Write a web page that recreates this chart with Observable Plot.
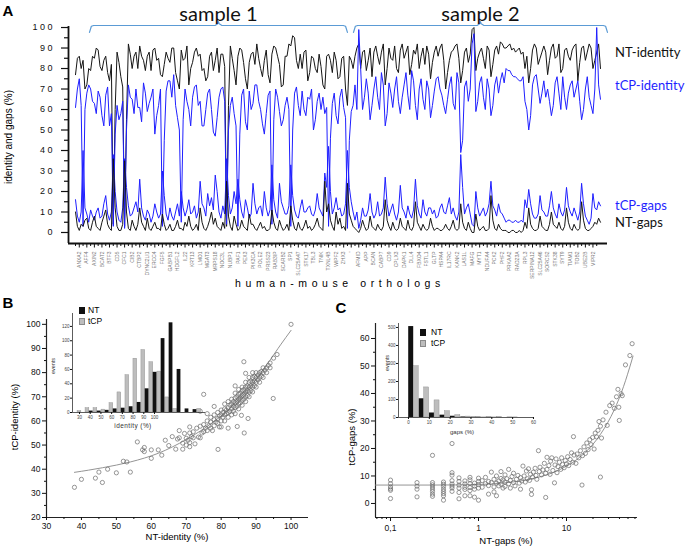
<!DOCTYPE html>
<html><head><meta charset="utf-8">
<script src="https://cdn.jsdelivr.net/npm/d3@7"></script>
<script src="https://cdn.jsdelivr.net/npm/@observablehq/plot@0.6"></script>
<style>
body{margin:0;background:#fff;}
#fig{position:relative;width:685px;height:547px;overflow:hidden;background:#fff;}
#fig svg{position:absolute;overflow:visible;}
</style></head><body><div id="fig"></div>
<script>
// ---------------- Panel A data ----------------
const genesSample1 = ["ANXA2","AFF4","AXIN2","BCAT2","BTF3","CD5","CFC1","CIB2","CTBP2","DYNC2LI1","ERCC4","FGF5","GABPB1","HDGFL2","IL22","KRT13","LMO1","MGAT3","MRPS18","NOC3L","NUBP1","PAF1","PEX3","PIK3CA","POLE2","PRSS23","RAB3IP","SCARB2","SP1","SLC25A47","STK17","TBL3","TNIK","TXNL4B","WIPF2","ZHX3"];
const genesSample2 = ["'","AFMID","APP","BCAN","CABP7","CD9","CPLX3","DAPK1","DLL4","FBXO4","FSTL1","GLTP","HSPA4","IL17RC","KANK2","LAS1L","MAFG","MYT1","NDUFA4","PCK2","PHF2","PRKAA2","RAD23A","RPL3","SERPINA12","SLC25A46","SORCS2","STK38","SYT9","TIAM1","TOB2","UBE2B","VIPR2"];
const ntIdentity = [
 77,85,86,80,84,70,72,80,79,86,85,90,89,81,79,84,86,78,74,82,
 4,60,88,83,76,71,3,55,92,87,80,86,88,80,91,86,84,79,86,88,
 79,89,90,84,85,77,76,82,88,85,83,90,90,78,74,70,89,84,85,91,
 72,80,83,88,90,86,87,79,80,74,76,86,88,79,84,90,78,87,87,81,
 3,62,91,85,79,72,86,90,89,83,75,70,83,87,88,82,92,85,80,76,
 84,89,77,73,87,91,90,86,82,71,72,86,86,92,91,96,95,84,80,87,
 80,88,89,74,78,86,85,80,78,87,81,72,70,86,87,84,78,88,84,75,
 76,85,86,70,62,86,84,80,
 86,90,92,80,88,89,79,84,90,76,88,91,86,82,88,92,72,80,90,85,
 84,91,80,78,89,92,85,88,91,77,82,89,87,92,80,86,90,82,91,87,
 75,83,88,91,86,90,92,84,70,78,84,88,89,91,92,85,73,79,88,90,
 83,87,99,100,79,85,88,90,85,80,91,89,76,82,89,91,87,93,92,90,
 90,91,92,89,90,88,89,90,87,88,80,86,73,80,89,92,90,82,85,88,
 91,88,77,84,90,92,85,86,92,78,80,89,90,86,84,89,91,92,74,83,
 90,91,84,88,92,90,80,84,88,92,80];
const tcpIdentity = [
 61,70,75,62,3,60,68,72,70,64,63,58,69,66,57,52,67,71,52,58,
 3,48,62,55,58,64,2,50,72,66,65,58,70,61,61,54,73,68,59,63,
 66,70,48,57,62,70,3,45,69,74,74,66,77,62,56,50,5,55,70,64,
 60,52,66,71,72,62,64,52,52,60,68,70,60,49,47,56,66,70,71,64,
 4,50,62,66,58,52,3,48,67,70,54,50,69,60,63,72,72,64,60,53,
 48,58,67,69,4,55,70,66,59,52,55,62,66,60,3,50,68,71,62,57,
 69,60,57,66,65,70,50,55,64,68,60,66,58,61,3,46,63,68,57,53,
 66,70,61,56,2,45,59,62,
 72,60,99,80,60,66,75,68,55,62,70,76,66,60,78,72,52,58,73,68,
 61,70,76,64,58,66,72,78,67,60,79,74,62,55,70,75,65,60,74,70,
 56,62,69,75,76,70,67,62,58,65,72,76,63,60,78,73,39,45,71,74,
 64,70,92,97,59,64,73,76,66,60,75,70,57,62,72,76,68,74,78,73,
 80,79,79,77,76,76,75,74,74,76,64,60,50,57,72,76,77,70,63,68,
 74,66,70,64,57,62,73,76,68,60,76,66,60,68,72,74,66,70,74,64,
 55,60,70,76,66,62,58,70,100,72,65];
const tcpGaps = [
 16,8,5,10,40,12,9,5,11,8,6,10,12,7,8,14,18,9,6,10,
 38,20,10,6,5,12,36,22,13,8,9,12,15,10,26,12,8,6,11,9,
 5,8,14,10,7,9,30,18,9,6,12,8,6,10,14,8,20,12,8,11,
 16,9,10,13,7,10,25,14,12,8,19,13,17,11,28,20,10,7,13,9,
 36,18,9,12,20,14,26,16,10,7,16,12,7,9,24,14,9,12,13,8,
 20,12,8,11,33,16,10,7,24,15,12,9,9,13,33,18,11,8,7,12,
 16,10,10,12,13,9,8,11,19,12,10,8,29,22,42,20,9,12,17,11,
 12,8,9,14,40,22,15,10,
 6,10,2,6,12,8,8,11,19,10,7,9,15,8,9,12,27,14,8,11,
 14,9,6,10,23,12,10,7,13,9,7,11,26,13,9,7,16,10,8,12,
 12,9,11,7,8,12,14,10,9,13,17,9,12,8,6,10,38,22,9,12,
 14,9,4,3,20,12,8,10,12,8,10,14,25,13,11,8,14,10,9,7,
 5,6,6,5,5,6,5,5,6,5,16,12,21,14,9,7,7,9,18,11,
 10,8,8,13,20,12,9,7,14,10,8,11,22,13,10,8,12,9,6,10,
 24,14,8,6,4,7,19,12,11,15,13];
const ntGaps = [
 10,3,1,4,3,6,7,2,1,5,8,3,2,1,5,8,11,4,2,1,
 36,12,3,1,1,4,35,10,2,1,6,3,1,4,12,5,3,1,7,2,
 1,3,5,2,2,1,9,4,1,2,4,1,1,3,6,2,2,1,5,3,
 8,3,1,2,4,1,12,5,2,1,3,6,10,4,7,3,2,1,5,2,
 25,8,3,1,8,4,1,2,6,3,2,1,9,4,4,2,1,3,5,2,
 3,1,1,2,11,5,2,1,6,3,1,2,4,1,13,6,2,1,5,2,
 1,3,6,2,3,1,2,4,7,3,2,1,25,10,14,6,3,1,10,4,
 7,2,3,1,24,9,6,3,
 2,1,0,2,6,3,1,2,8,3,2,1,4,2,1,3,16,6,3,1,
 5,2,1,2,7,3,2,1,6,2,1,3,15,5,3,1,4,2,1,2,
 7,3,1,2,2,1,1,2,4,2,1,3,6,2,1,2,14,5,2,1,
 5,2,0,0,9,3,1,2,3,1,1,2,18,6,2,1,4,2,1,1,
 1,0,0,1,1,0,0,1,0,1,5,2,12,4,2,1,1,2,8,3,
 2,1,1,4,10,4,3,2,5,2,1,3,12,5,2,1,4,2,1,2,
 15,6,2,1,1,2,3,5,4,7,5];
const samples = [{name:"sample 1", from:7.4, to:144.0}, {name:"sample 2", from:147.2, to:281.7}];
const seriesLabels = [{name:"NT-identity", color:"#111"}, {name:"tCP-identity", color:"#1f1fff"}, {name:"tCP-gaps", color:"#1f1fff"}, {name:"NT-gaps", color:"#111"}];

// ---------------- Panel B data ----------------
const pointsB = [[38,32.5],[40,35.8],[44,36.3],[45,38.8],[46,34.5],[47.5,40],[50,38.5],[52,43.3],[53,43],[54,38.8],[56,51.3],[57.5,48],[58,47.3],[58,49],[60,48],[60,44.5],[62,48],[63,45.8],[64,52],[65,49.8],[66,53.5],[67,48.3],[67.5,52.5],[68,56],[68,53],[69,50.8],[69,48.3],[69.5,54.8],[70,50],[70,52.8],[70.5,52],[71,49.3],[71,51],[71,55],[71,57.5],[71.5,53.5],[72,53],[72,55.5],[72.5,50.5],[73,57],[73.5,53.3],[74,53],[74,57.8],[74.5,55],[75,55.5],[75,58.5],[75.5,57],[76,56],[76,60],[76.5,58],[77,57],[77,59.5],[77,61.5],[77.5,56],[78,58],[78,60.5],[78,62.5],[78.5,59.5],[79,59],[79,61],[79,63.5],[79.5,57.5],[79.5,62],[80,60],[80,62.5],[80,64.5],[80.5,61.5],[80.5,63.5],[81,60],[81,62.5],[81,65],[81,67],[81.5,63],[81.5,64.5],[82,61.5],[82,63.5],[82,65.5],[82,68],[82.5,64],[82.5,66.5],[83,62.5],[83,65],[83,67],[83,69],[83.5,64],[83.5,66],[83.5,68],[84,63],[84,65.5],[84,67.5],[84,69.5],[84,71.5],[84.5,66],[84.5,68],[84.5,70],[85,65],[85,67],[85,69],[85,71],[85,73],[85.5,67.5],[85.5,69.5],[85.5,71.5],[86,66.5],[86,68.5],[86,70.5],[86,72.5],[86,74],[86.5,69],[86.5,71],[86.5,73],[87,68],[87,70],[87,72],[87,74],[87,76],[87.5,70.5],[87.5,72.5],[87.5,74.5],[88,70],[88,72],[88,74],[88,76],[88,78],[88.5,72.5],[88.5,74.5],[88.5,76.5],[89,72],[89,74],[89,76],[89,78],[89,80],[89.5,74.5],[89.5,76.5],[89.5,78.5],[90,74],[90,76],[90,78],[90,80],[90.5,77],[90.5,79],[91,76],[91,78],[91,80],[91.5,78.5],[91.5,80.5],[92,78],[92,80],[92,82],[92.5,81],[93,80],[93,82],[93.5,83],[94,82],[94,84],[95,86],[96,87.5],[100,100],[86.5,84.5],[87,79.7],[75,71],[84,74.5],[87.7,61],[84.6,57.7],[79.1,48.2],[86.6,55],[94.9,69.3],[85.8,62.3],[82,57],[80,57.5],[76,63],[74,64],[78,66]];
const fitB = [[38,38.7],[42,39.6],[46,40.6],[50,41.7],[54,43],[58,44.6],[62,46.6],[66,49.2],[70,52.3],[74,55.8],[78,59.8],[82,64.6],[86,70.4],[90,77.2],[94,85.2],[97,91.5],[100,97.5]];
const identityBinEdge = [25,30,35,40,45,50,55,60,65,70,75,80,85,90,95,100];
const identityTcpEvents = [2,6,6,4,13,28,52,75,87,70,57,21,5,0,0,5];
const identityNtEvents  = [0,2,2,3,5,6,8,14,33,56,103,125,60,5,4,0];
const identityTickLabels = [30,40,50,60,70,80,90,100];

// ---------------- Panel C data ----------------
const pointsC = [[0.1,8.5],[0.1,7.2],[0.1,6.0],[0.1,5.3],[0.1,4.8],[0.1,1.8],[0.2,7.6],[0.2,6.3],[0.2,5.2],[0.2,2.4],[0.3,17.5],[0.3,7.6],[0.3,6.8],[0.3,6.0],[0.3,5.2],[0.3,4.4],[0.3,3.4],[0.3,2.6],[0.4,7.8],[0.4,7.0],[0.4,6.2],[0.4,5.2],[0.4,4.4],[0.4,3.6],[0.4,2.8],[0.4,1.2],[0.5,21.8],[0.5,11.2],[0.5,10.3],[0.5,8.3],[0.5,7.1],[0.5,6.3],[0.5,5.6],[0.5,4.4],[0.6,9.3],[0.6,8.0],[0.6,6.7],[0.6,5.6],[0.6,4.0],[0.6,1.7],[0.7,8.2],[0.7,7.1],[0.7,5.9],[0.7,5.1],[0.7,2.8],[0.8,9.5],[0.8,8.6],[0.8,7.2],[0.8,5.8],[0.8,4.7],[0.8,2.8],[0.9,7.4],[0.9,6.3],[0.9,5.2],[0.9,2.3],[1.0,9.2],[1.0,8.0],[1.0,6.9],[1.0,5.6],[1.0,1.2],
[1.1,8.3],[1.1,5.9],[1.2,7.2],[1.2,9.5],[1.3,3.4],[1.3,6.5],[1.3,8.0],[1.4,7.6],[1.4,11.4],[1.5,6.0],[1.5,8.8],[1.5,4.2],[1.6,7.4],[1.6,10.0],[1.6,2.8],[1.7,8.2],[1.7,6.4],[1.8,9.1],[1.8,7.0],[1.8,11.6],[1.9,5.6],[1.9,8.6],[2.0,7.8],[2.0,10.4],[2.0,6.2],[2.1,9.0],[2.2,7.2],[2.2,12.4],[2.3,8.4],[2.3,5.6],[2.4,9.8],[2.5,7.6],[2.5,11.0],[2.6,6.4],[2.7,8.8],[2.8,10.2],[2.9,7.4],[3.0,9.4],[3.0,5.2],[3.1,8.2],[3.2,13.6],[3.3,10.0],[3.4,7.8],[3.5,11.8],[3.6,9.0],[3.7,12.6],[3.8,8.4],[3.9,10.6],[4.0,3.3],[4.0,5.0],[4.1,9.6],[4.2,11.4],[4.4,12.8],[4.5,10.2],[4.6,8.8],[4.8,19.2],[4.9,11.6],[5.0,13.2],[5.2,10.4],[5.4,12.2],[5.6,14.6],[5.8,2.2],[5.8,11.0],[6.0,16.8],[6.0,12.4],[6.3,13.8],[6.5,10.6],[6.6,15.4],[6.8,16.6],[7.0,12.0],[7.3,7.5],[7.4,14.0],[7.6,16.2],[7.8,11.2],[8.0,13.4],[8.3,15.0],[8.6,12.4],[8.8,16.6],[9.0,14.2],[9.4,13.0],[9.7,15.6],[10.0,14.4],[10.3,17.0],[10.6,13.8],[11.0,16.0],[11.4,18.4],[11.8,15.0],[12.0,24.3],[12.2,17.6],[12.8,14.6],[13.2,18.0],[13.8,16.6],[14.4,19.2],[15.0,6.7],[15.2,17.4],[15.8,20.6],[16.4,18.2],[17.0,22.0],[17.6,19.6],[18.4,23.2],[19.0,21.4],[19.8,24.0],[20.6,19.8],[21.2,25.6],[22.0,24.2],[22.8,26.6],[23.4,29.8],[24.3,9.6],[24.3,28.1],[25.0,23.8],[26.0,30.4],[28.1,33.2],[29.0,28.4],[31.0,35.6],[33.0,36.5],[35.0,34.6],[37.0,38.8],[38.4,41.5],[39.3,35.0],[39.8,30.2],[41.7,39.9],[43.0,39.2],[46.8,50.4],[52.5,53.8],[55.7,58.1]];
const fitC = [[0.0675,6.7],[0.3,6.7],[1,6.9],[2,7.5],[3,8.2],[5,9.7],[7,11.2],[10,13.6],[14,16.7],[18,19.9],[22,23.2],[27,27.4],[32,31.6],[37,35.9],[42,40.3],[47,44.8],[52,49.3],[57,53.6]];
const gapsBinEdge = [0,5,10,15,20,25,30,35,40,45,50,55];
const gapsNtEvents  = [505,104,25,13,7,3,2,1,1,0,1,0];
const gapsTcpEvents = [285,167,95,35,13,5,4,3,2,1,0,0];
const gapsTickLabels = [0,10,20,30,40,50,60];

// ---------------- helpers ----------------
const fig = document.getElementById("fig");
const SANS = '"Liberation Sans", Arial, sans-serif';
function put(svg, left, top){ svg.style.left = left + "px"; svg.style.top = top + "px"; fig.appendChild(svg); }
function label(text, x, y, o = {}) {
  const d = document.createElement("div");
  d.textContent = text;
  const anchor = o.anchor || "middle";
  const tx = anchor === "start" ? "0" : anchor === "end" ? "-100%" : "-50%";
  Object.assign(d.style, {position:"absolute", left:x+"px", top:y+"px", whiteSpace:"nowrap",
    fontSize:(o.size||10)+"px", fontFamily:o.family||SANS, color:o.color||"#000",
    fontWeight:o.weight||"normal", letterSpacing:o.spacing||"normal", lineHeight:"1.15",
    transform:`translate(${tx},-50%)` + (o.rotate ? ` rotate(${o.rotate}deg)` : "")});
  fig.appendChild(d);
}
function swatch(x, y, w, h, fill, stroke) {
  const d = document.createElement("div");
  Object.assign(d.style, {position:"absolute", left:x+"px", top:y+"px", width:w+"px", height:h+"px", background:fill, boxSizing:"border-box", border: stroke ? `0.5px solid ${stroke}` : "none"});
  fig.appendChild(d);
}
const spaced = d => String(d).split("").join(" ");
const baseStyle = {fontFamily: SANS, background: "transparent", color: "#111", overflow: "visible"};

// ---------------- Panel A ----------------
const rowsA = ntIdentity.map((v, i) => ({i, ntId: v, tcpId: tcpIdentity[i], tcpGap: tcpGaps[i], ntGap: ntGaps[i]}));
const geneLabels = genesSample1.concat(genesSample2);
const labelIdx = geneLabels.map((_, k) => 4 * k + 2);
const minorIdx = geneLabels.map((_, k) => 4 * k).concat([4 * geneLabels.length]);
const xA = [-3.71, 281.71], yA = [-5.37, 100.5];
const bracketPts = samples.flatMap(s => {
  const m = (s.from + s.to) / 2;
  return [[s.from,97.6],[s.from+1,100.6],[s.from+2.2,101],[m-1.8,101],[m-0.4,101.8],[m,102.9],[m+0.4,101.8],[m+1.8,101],[s.to-2.2,101],[s.to-1,100.6],[s.to,97.6]].map(p => ({name: s.name, x: p[0], y: p[1]}));
});
const plotA = Plot.plot({
  width: 685, height: 290, marginLeft: 68, marginRight: 78, marginTop: 26, marginBottom: 47,
  x: {domain: xA}, y: {domain: yA},
  style: {...baseStyle, fontSize: "9px"},
  marks: [
    Plot.line(rowsA, {x: "i", y: "ntId", stroke: "#151515", strokeWidth: 1}),
    Plot.line(rowsA, {x: "i", y: "tcpId", stroke: "#1f1fff", strokeWidth: 1}),
    Plot.line(rowsA, {x: "i", y: "tcpGap", stroke: "#1f1fff", strokeWidth: 1}),
    Plot.line(rowsA, {x: "i", y: "ntGap", stroke: "#151515", strokeWidth: 1}),
    Plot.line(bracketPts, {x: "x", y: "y", z: "name", stroke: "#5b9bd5", strokeWidth: 1.2, curve: "linear"}),
    Plot.text(samples, {x: d => (d.from + d.to) / 2, y: () => 106.4, text: "name", fontFamily: "Lato, 'Open Sans', sans-serif", fontSize: 20, fill: "#111"}),
    Plot.ruleX([xA[0]], {stroke: "#111", strokeWidth: 1.8}),
    Plot.ruleY([yA[0]], {stroke: "#111", strokeWidth: 1.8}),
    Plot.axisY({ticks: d3.range(0, 101, 10), tickSize: 7, tickPadding: 9, tickFormat: spaced, label: null, fontSize: 9, strokeWidth: 1.2}),
    Plot.axisY({ticks: d3.range(5, 100, 10), tickSize: 4, tickFormat: () => "", label: null, strokeWidth: 1.2}),
    Plot.axisX({ticks: minorIdx, tickSize: 3, tickFormat: () => "", label: null, strokeWidth: 1}),
    Plot.axisX({ticks: labelIdx, tickSize: 4.5, tickPadding: 3.5, tickRotate: -90, tickFormat: i => geneLabels[(i - 2) / 4], fontSize: 5, fill: "#777", label: null, strokeWidth: 1})
  ]
});
put(plotA, 0, 0);
label("A", 8, 11, {size: 15, weight: "bold"});
label("identity and gaps (%)", 9, 137, {size: 10, rotate: -90});
label("human-mouse orthologs", 340, 283, {size: 10.5, spacing: "4.6px"});
const legendY = [52, 85, 205, 222];
seriesLabels.forEach((s, k) => label(s.name, 615, legendY[k], {anchor: "start", size: 13, family: "Lato, 'Open Sans', sans-serif", color: s.color}));

// ---------------- Panel B ----------------
const plotB = Plot.plot({
  width: 330, height: 257, marginLeft: 46, marginRight: 22, marginTop: 29, marginBottom: 30,
  x: {domain: [30, 105]}, y: {domain: [20, 102]},
  style: {...baseStyle, fontSize: "8.5px"},
  marks: [
    Plot.ruleX([30], {stroke: "#222", strokeWidth: 1.2}),
    Plot.ruleY([20], {stroke: "#222", strokeWidth: 1.2}),
    Plot.axisX({ticks: d3.range(30, 101, 10), tickSize: 3, tickPadding: 2, label: null}),
    Plot.axisX({ticks: d3.range(35, 100, 10), tickSize: 2, tickFormat: () => "", label: null}),
    Plot.axisY({ticks: d3.range(20, 101, 10), tickSize: 4, tickPadding: 2, label: null}),
    Plot.axisY({ticks: d3.range(25, 100, 10), tickSize: 2, tickFormat: () => "", label: null}),
    Plot.line(fitB, {x: d => d[0], y: d => d[1], stroke: "#888", strokeWidth: 0.9, curve: "natural"}),
    Plot.dot(pointsB, {x: d => d[0], y: d => d[1], r: 2.1, stroke: "#6a6a6a", strokeWidth: 0.7, fill: "none"})
  ]
});
put(plotB, 0, 290);
label("B", 8, 303, {size: 15, weight: "bold"});
label("NT-identity (%)", 177, 537, {size: 9.5});
label("tCP-identity (%)", 15, 417, {size: 9.5, rotate: -90});

// inset B histogram (drawn in the figure's compressed identity-axis units)
const histB = identityBinEdge.map((e, k) => ({s: 28 + (e - 25) * 1.49, tcp: identityTcpEvents[k], nt: identityNtEvents[k]}));
const halfB = 3.725;
const insetB = Plot.plot({
  width: 175, height: 135, marginLeft: 32, marginRight: 10, marginTop: 13, marginBottom: 23,
  x: {domain: [23.47, 147.6]}, y: {domain: [0, 138]},
  style: {...baseStyle, fontSize: "4.5px"},
  marks: [
    Plot.rect(histB, {x1: d => d.s + 0.2, x2: d => d.s + halfB, y1: () => 0, y2: "tcp", fill: "#bdbdbd", stroke: "#8a8a8a", strokeWidth: 0.4}),
    Plot.rect(histB, {x1: d => d.s + halfB, x2: d => d.s + 2 * halfB - 0.2, y1: () => 0, y2: "nt", fill: "#111"}),
    Plot.ruleX([23.47], {stroke: "#333", strokeWidth: 0.8}),
    Plot.ruleY([0], {stroke: "#333", strokeWidth: 0.8}),
    Plot.axisY({ticks: d3.range(0, 121, 20), tickSize: 2, tickPadding: 1, label: null, fontSize: 4.5, fill: "#444"}),
    Plot.axisX({ticks: identityTickLabels, tickSize: 2, tickPadding: 1, label: null, fontSize: 4.5, fill: "#444"})
  ]
});
put(insetB, 40, 300);
label("events", 53, 366, {size: 5.5, rotate: -90, color: "#333"});
label("identity (%)", 133, 426, {size: 6.5, color: "#333", spacing: "0.4px"});
swatch(79, 307, 6, 7, "#111");
label("NT", 88, 311, {anchor: "start", size: 8.5});
swatch(79, 318, 6, 7, "#bdbdbd", "#8a8a8a");
label("tCP", 88, 321.5, {anchor: "start", size: 8.5});

// ---------------- Panel C ----------------
const minorLog = [0.07,0.08,0.09,0.2,0.3,0.4,0.5,0.6,0.7,0.8,0.9,2,3,4,5,6,7,8,9,20,30,40,50,60];
const plotC = Plot.plot({
  width: 355, height: 257, marginLeft: 45, marginRight: 48, marginTop: 33, marginBottom: 30,
  x: {type: "log", domain: [0.0675, 64.1]}, y: {domain: [-5.1, 65.45]},
  style: {...baseStyle, fontSize: "8.5px"},
  marks: [
    Plot.ruleX([0.0675], {stroke: "#222", strokeWidth: 1.2}),
    Plot.ruleY([-5.1], {stroke: "#222", strokeWidth: 1.2}),
    Plot.axisX({ticks: [0.1, 1, 10], tickSize: 4, tickPadding: 3, tickFormat: d => String(d).replace(".", ","), label: null}),
    Plot.axisX({ticks: minorLog, tickSize: 2, tickFormat: () => "", label: null}),
    Plot.axisY({ticks: d3.range(0, 61, 10), tickSize: 4, tickPadding: 2, label: null}),
    Plot.axisY({ticks: d3.range(5, 61, 10), tickSize: 2, tickFormat: () => "", label: null}),
    Plot.line(fitC, {x: d => d[0], y: d => d[1], stroke: "#888", strokeWidth: 0.9, curve: "monotone-x"}),
    Plot.dot(pointsC, {x: d => d[0], y: d => d[1], r: 2.1, stroke: "#6a6a6a", strokeWidth: 0.7, fill: "none"})
  ]
});
put(plotC, 330, 290);
label("C", 341, 308, {size: 15, weight: "bold"});
label("NT-gaps (%)", 506, 541, {size: 9.5});
label("tCP-gaps (%)", 352, 437, {size: 9.5, rotate: -90});

// inset C histogram
const histC = gapsBinEdge.map((e, k) => ({s: e, nt: gapsNtEvents[k], tcp: gapsTcpEvents[k]}));
const insetC = Plot.plot({
  width: 175, height: 130, marginLeft: 28, marginRight: 11, marginTop: 13, marginBottom: 23,
  x: {domain: [-4.8, 60.5]}, y: {domain: [0, 522]},
  style: {...baseStyle, fontSize: "4.5px"},
  marks: [
    Plot.rect(histC, {x1: d => d.s + 0.1, x2: d => d.s + 2.5, y1: () => 0, y2: "nt", fill: "#111"}),
    Plot.rect(histC, {x1: d => d.s + 2.5, x2: d => d.s + 4.9, y1: () => 0, y2: "tcp", fill: "#bdbdbd", stroke: "#8a8a8a", strokeWidth: 0.4}),
    Plot.ruleX([-4.8], {stroke: "#333", strokeWidth: 0.8}),
    Plot.ruleY([0], {stroke: "#333", strokeWidth: 0.8}),
    Plot.axisY({ticks: d3.range(0, 501, 100), tickSize: 2, tickPadding: 1, label: null, fontSize: 4.5, fill: "#444"}),
    Plot.axisX({ticks: gapsTickLabels, tickSize: 2, tickPadding: 1, label: null, fontSize: 4.5, fill: "#444"})
  ]
});
put(insetC, 370, 310);
label("events", 387, 363, {size: 5.5, rotate: -90, color: "#333"});
label("gaps (%)", 462, 432, {size: 6, color: "#333"});
swatch(420, 329, 6, 7, "#111");
label("NT", 431, 333, {anchor: "start", size: 8.5});
swatch(420, 340, 6, 7, "#bdbdbd", "#8a8a8a");
label("tCP", 431, 343.5, {anchor: "start", size: 8.5});
</script></body></html>
